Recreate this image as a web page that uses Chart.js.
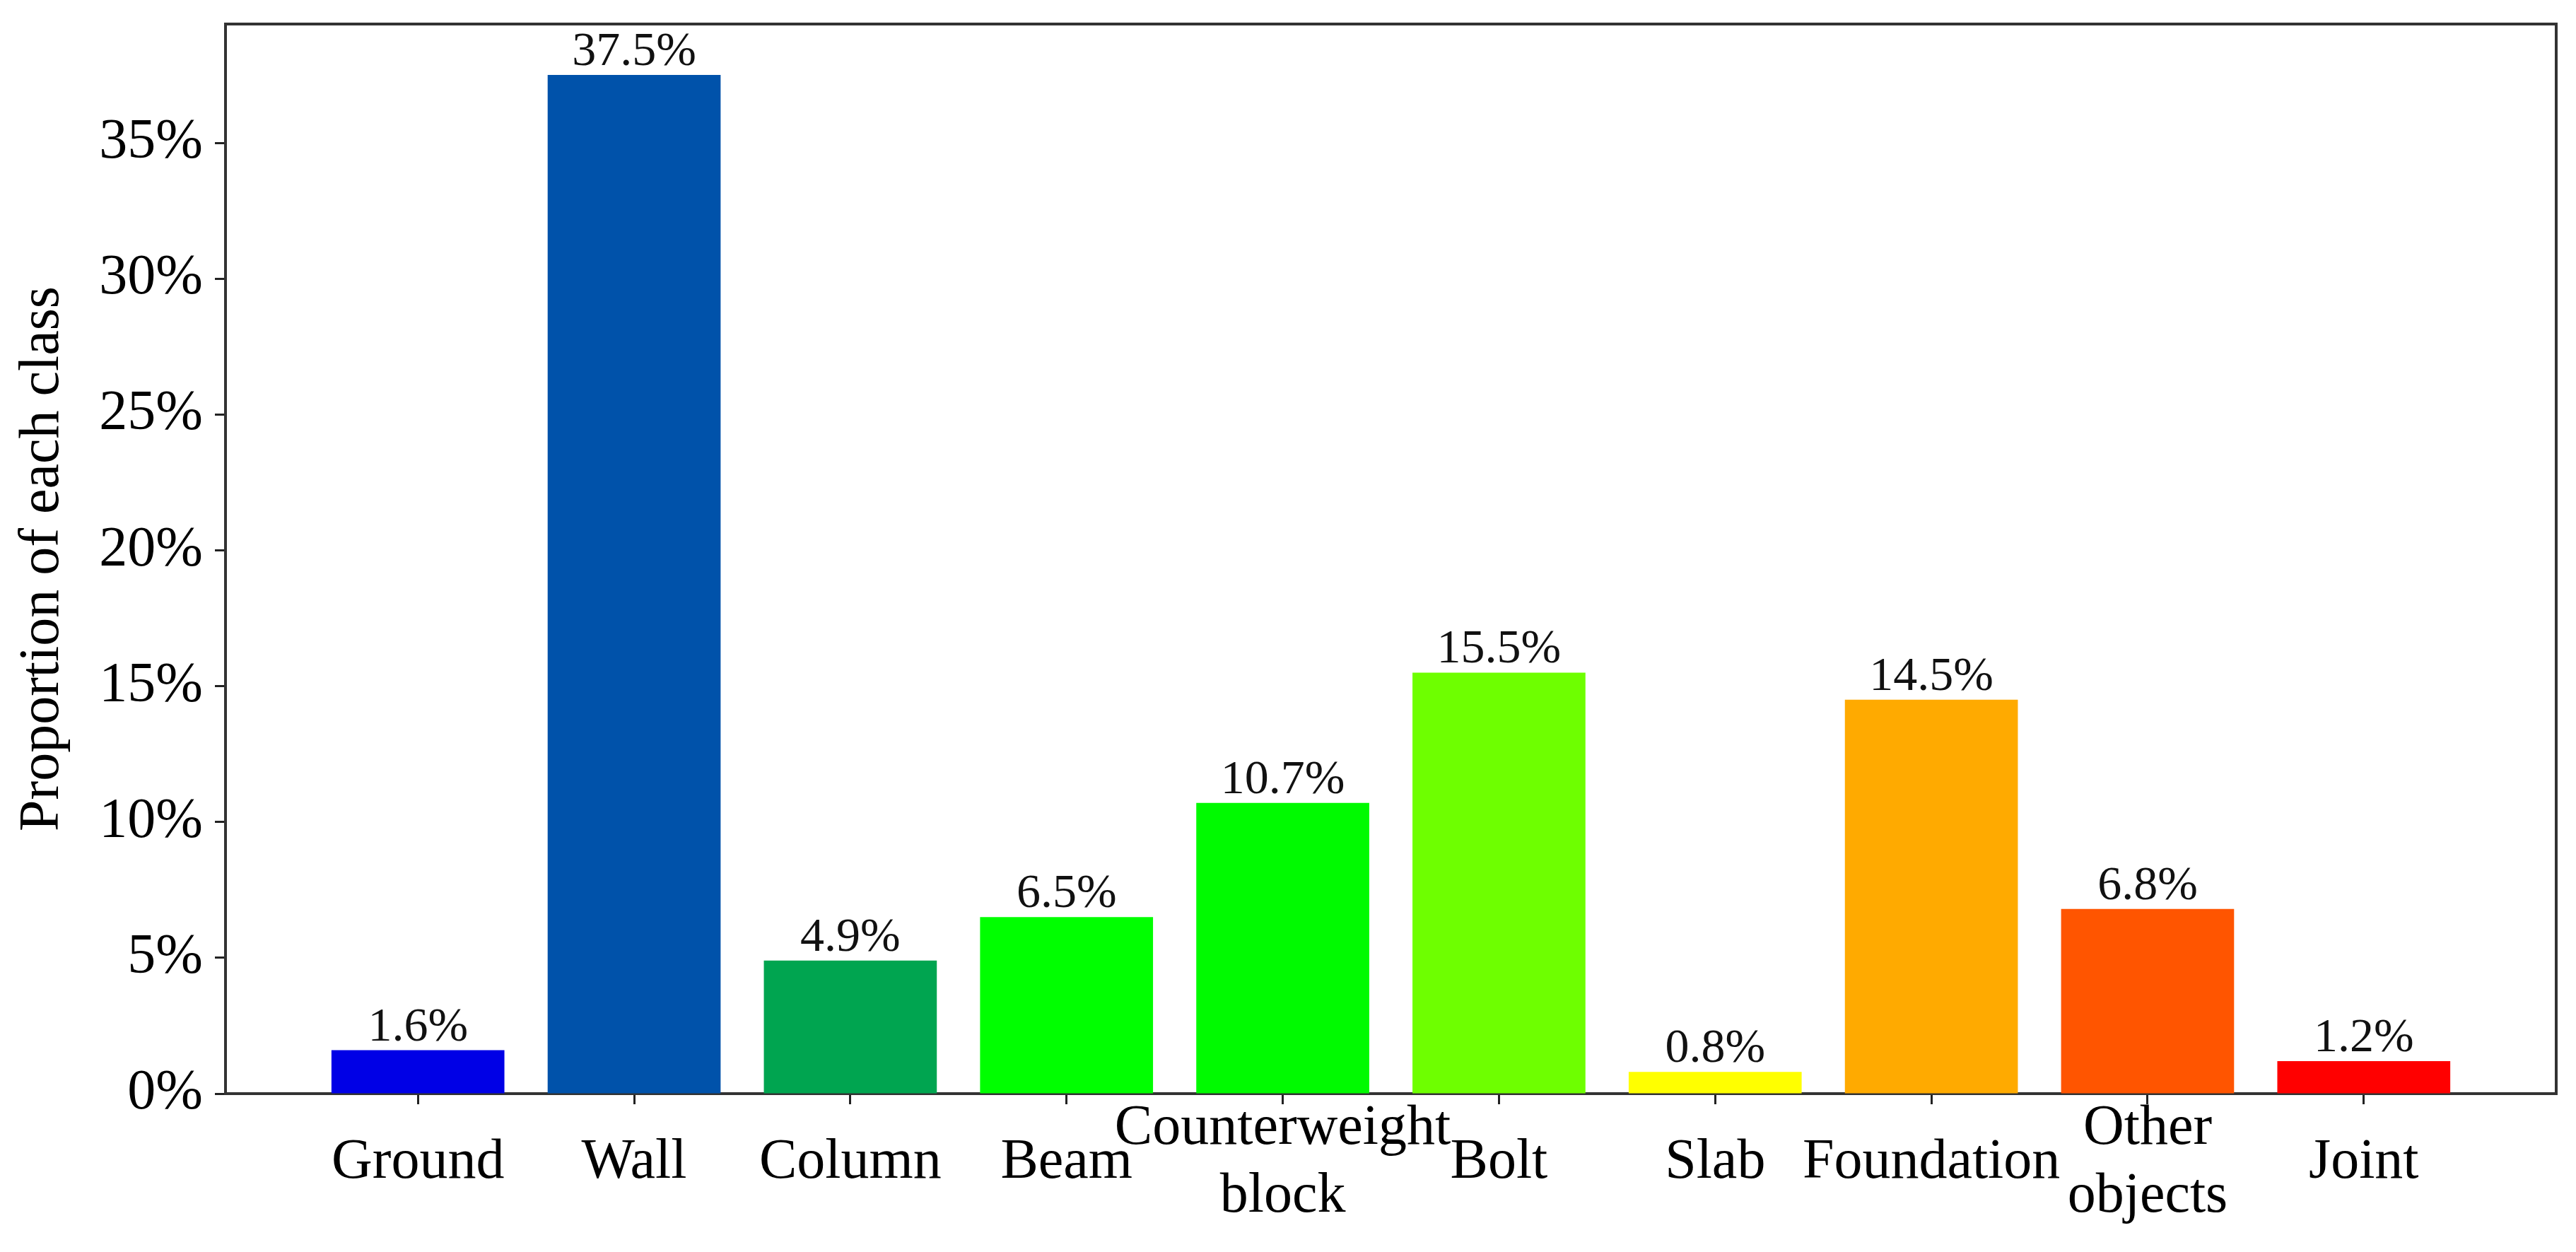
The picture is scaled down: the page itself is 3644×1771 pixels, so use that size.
<!DOCTYPE html>
<html><head><meta charset="utf-8">
<style>html,body{margin:0;padding:0;background:#fff;overflow:hidden}canvas{display:block}</style>
<script src="https://cdn.jsdelivr.net/npm/chart.js@4.4.1/dist/chart.umd.min.js"></script>
</head><body>
<canvas id="c" width="3644" height="1771" style="width:3644px;height:1771px"></canvas>
<script>
// ---- data ----
const categories = ['Ground', 'Wall', 'Column', 'Beam', ['Counterweight', 'block'], 'Bolt', 'Slab', 'Foundation', ['Other', 'objects'], 'Joint'];
const proportions = [1.6, 37.5, 4.9, 6.5, 10.7, 15.5, 0.8, 14.5, 6.8, 1.2];
const barColors = ['#0000e6', '#0052aa', '#00a550', '#00ff00', '#00fa00', '#6eff00', '#ffff00', '#ffaa00', '#ff5500', '#ff0000'];
const yTicks = [0, 5, 10, 15, 20, 25, 30, 35];
const yAxisTitle = 'Proportion of each class';

Chart.defaults.font.family = '"Liberation Serif", "Times New Roman", serif';
Chart.defaults.color = '#000';

const valueLabels = {
  id: 'valueLabels',
  afterDatasetsDraw(chart) {
    const ctx = chart.ctx;
    const meta = chart.getDatasetMeta(0);
    ctx.save();
    ctx.font = '68px "Liberation Serif", "Times New Roman", serif';
    ctx.fillStyle = '#111';
    ctx.textAlign = 'center';
    ctx.textBaseline = 'alphabetic';
    meta.data.forEach((bar, i) => {
      ctx.fillText(proportions[i].toFixed(1) + '%', bar.x, bar.y - 14);
    });
    ctx.restore();
  }
};

const frame = {
  id: 'frame',
  afterDraw(chart) {
    const {ctx, chartArea: a} = chart;
    ctx.save();
    ctx.strokeStyle = '#333';
    ctx.lineWidth = 4;
    ctx.beginPath();
    ctx.moveTo(a.left - 2, a.top);
    ctx.lineTo(a.right, a.top);
    ctx.lineTo(a.right, a.bottom + 2);
    ctx.stroke();
    ctx.restore();
  }
};

new Chart(document.getElementById('c'), {
  type: 'bar',
  data: {
    datasets: [{
      data: proportions.map((v, i) => ({x: i, y: v})),
      backgroundColor: barColors,
      borderWidth: 0,
      categoryPercentage: 1.0,
      barPercentage: 0.8
    }]
  },
  options: {
    responsive: false,
    devicePixelRatio: 1,
    animation: false,
    layout: {padding: {left: 0, top: 34, right: 28, bottom: 0}},
    plugins: {legend: {display: false}, tooltip: {enabled: false}},
    scales: {
      x: {
        type: 'linear',
        offset: false,
        min: -0.89,
        max: 9.89,
        afterBuildTicks: (s) => { s.ticks = categories.map((_, i) => ({value: i})); },
        afterFit: (s) => { s.height = 224; s.paddingLeft = 0; s.paddingRight = 0; s.paddingTop = 0; s.paddingBottom = 0; },
        ticks: {
          callback: (v, i) => categories[i],
          font: {size: 80},
          color: '#000',
          padding: 35,
          crossAlign: 'center',
          maxRotation: 0,
          minRotation: 0,
          autoSkip: false
        },
        grid: {offset: false, drawOnChartArea: false, drawTicks: true, tickLength: 15, tickColor: '#222', tickWidth: 3},
        border: {display: true, color: '#333', width: 4}
      },
      y: {
        min: 0,
        max: 39.375,
        afterBuildTicks: (s) => { s.ticks = yTicks.map(v => ({value: v})); },
        afterFit: (s) => { s.width = 319; s.paddingTop = 0; s.paddingBottom = 0; s.paddingLeft = 0; s.paddingRight = 0; },
        ticks: {
          callback: (v) => v + '%',
          font: {size: 80},
          color: '#000',
          padding: 17
        },
        title: {
          display: true,
          text: yAxisTitle,
          font: {size: 80},
          color: '#000',
          padding: {top: 13, bottom: 0}
        },
        grid: {drawOnChartArea: false, drawTicks: true, tickLength: 15, tickColor: '#222', tickWidth: 3},
        border: {display: true, color: '#333', width: 4}
      }
    }
  },
  plugins: [valueLabels, frame]
});
</script>
</body></html>
